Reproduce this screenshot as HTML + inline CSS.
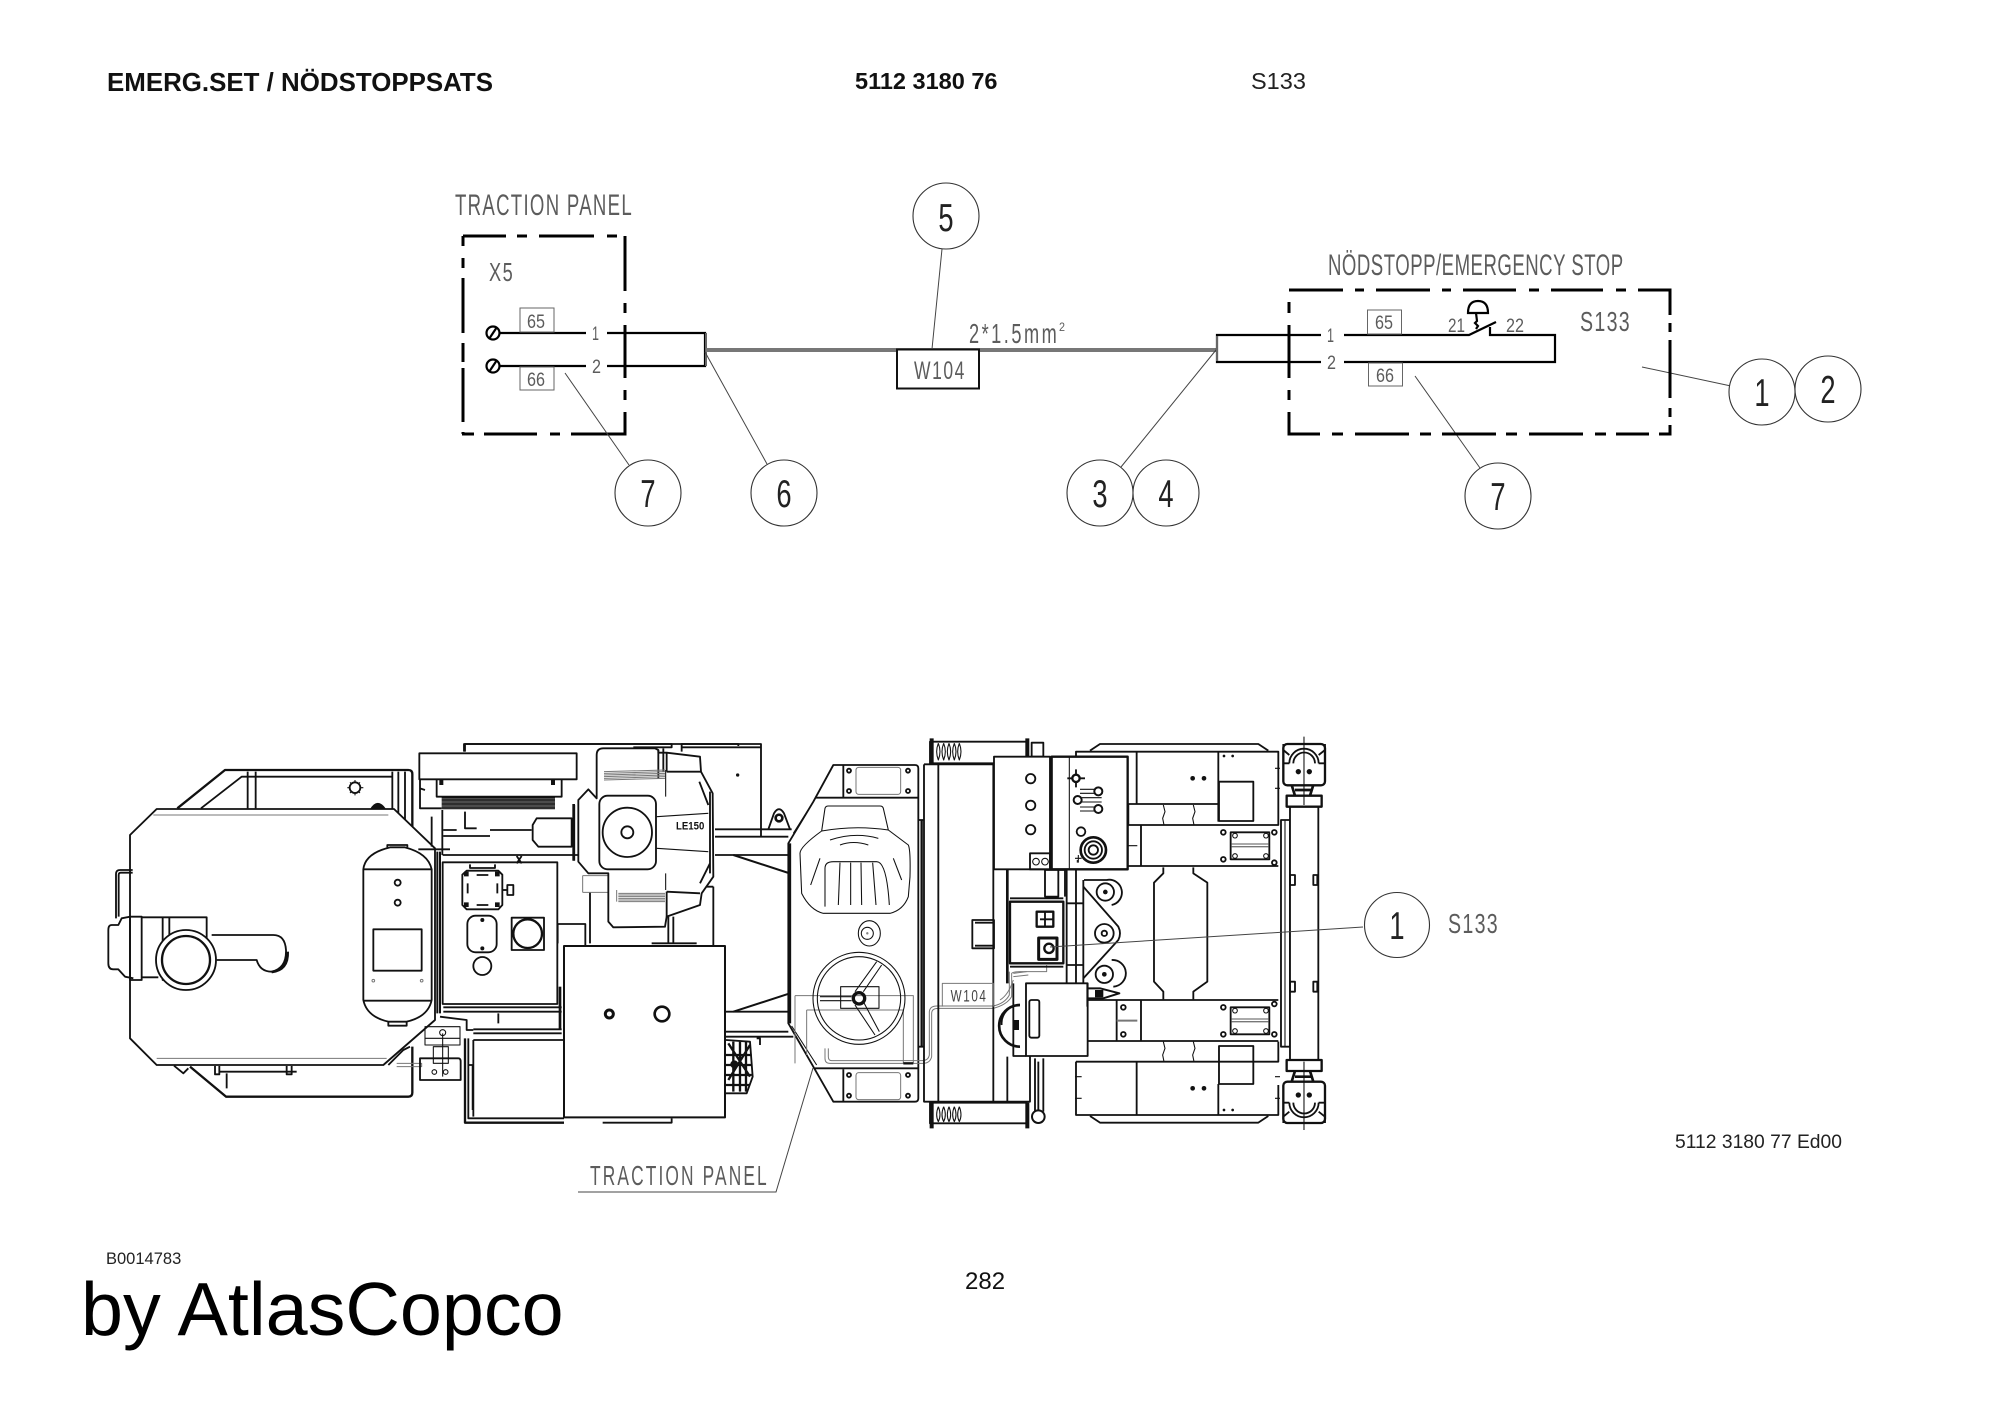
<!DOCTYPE html>
<html><head><meta charset="utf-8"><style>
html,body{margin:0;padding:0;background:#fff}
svg{display:block}
text{font-family:"Liberation Sans",sans-serif}
.c{fill:#fff;stroke:#333;stroke-width:1.1}
.n{font-size:39px;text-anchor:middle;fill:#222}
.cad{fill:#5c5c5c}
.l{fill:none;stroke:#444;stroke-width:1}
.b{fill:none;stroke:#000;stroke-width:3}
.w{fill:none;stroke:#000;stroke-width:2.2}
.g{fill:none;stroke:#666;stroke-width:1}
.m path,.m rect,.m circle,.m ellipse,.m line,.m polyline,.m polygon{fill:none;stroke:#111;stroke-width:5.5;stroke-linejoin:round}
.m .t{stroke-width:3.2}
.m .h{stroke-width:8}
.m .y{stroke:#777;stroke-width:3}
.m .f{fill:#111;stroke:none}
.m .W{fill:#fff}
</style></head><body>
<svg width="2000" height="1415" viewBox="0 0 2000 1415" xmlns="http://www.w3.org/2000/svg">
<rect width="2000" height="1415" fill="#fff"/>

<!-- Header text -->
<text x="107" y="91" font-size="26" font-weight="bold" textLength="386" lengthAdjust="spacingAndGlyphs" fill="#111">EMERG.SET / NÖDSTOPPSATS</text>
<text x="855" y="89" font-size="23.5" font-weight="bold" fill="#111">5112 3180 76</text>
<text x="1251" y="89" font-size="23.5" fill="#222">S133</text>

<!-- Schematic: traction panel -->
<text class="cad" transform="translate(455,215) scale(.62,1)" font-size="30" textLength="285" lengthAdjust="spacing">TRACTION PANEL</text>
<path class="b" d="M463 236H506M517 236H527M539 236H594M607 236H617M625 236V291M625 303V313M625 325V378M625 390V400M625 412V434H571M560 434H550M537 434H484M474 434H462M463 236V246M463 258V268M463 278V333M463 343V362M463 368V422M463 432V434"/>
<text class="cad" transform="translate(489,281) scale(.7,1)" font-size="26" textLength="34" lengthAdjust="spacing">X5</text>
<circle class="w" cx="493" cy="333" r="6.5"/><path class="w" d="M489 339L497 327"/>
<circle class="w" cx="493" cy="366" r="6.5"/><path class="w" d="M489 372L497 360"/>
<path class="w" d="M500 333H586M607 333H705V366H607M586 366H500"/>
<path d="M706 333V366" stroke="#666" stroke-width="2" fill="none"/>
<rect class="g" x="520" y="308" width="34" height="24"/><rect class="g" x="520" y="367" width="34" height="23"/>
<text class="cad" x="527" y="328" font-size="19" textLength="18" lengthAdjust="spacingAndGlyphs">65</text>
<text class="cad" x="527" y="386" font-size="19" textLength="18" lengthAdjust="spacingAndGlyphs">66</text>
<text class="cad" x="592" y="340" font-size="19" textLength="7" lengthAdjust="spacingAndGlyphs">1</text>
<text class="cad" x="592" y="373" font-size="19" textLength="9" lengthAdjust="spacingAndGlyphs">2</text>
<path d="M706 350H1217" stroke="#777" stroke-width="4" fill="none"/>
<rect x="897" y="349.500" width="82" height="39" fill="#fff" stroke="#111" stroke-width="2"/>
<text class="cad" transform="translate(914,379) scale(.7,1)" font-size="25" textLength="72" lengthAdjust="spacing">W104</text>
<text class="cad" transform="translate(969,343) scale(.65,1)" font-size="28" textLength="135" lengthAdjust="spacing">2*1.5mm</text>
<text class="cad" x="1059" y="331" font-size="12" textLength="6" lengthAdjust="spacingAndGlyphs">2</text>

<path class="l" d="M942 249L932 349M565 373L629 465M705 352L767 464M1216 350L1121 467M1642 367L1731 386M1415 376L1480 468"/>

<!-- Schematic: emergency stop -->
<text class="cad" transform="translate(1328,275) scale(.62,1)" font-size="30" textLength="476" lengthAdjust="spacing">NÖDSTOPP/EMERGENCY STOP</text>
<path class="b" d="M1289 290H1343M1355 290H1364M1376 290H1430M1442 290H1451M1463 290H1516M1529 290H1539M1551 290H1603M1616 290H1626M1638 290H1670V315M1670 323V332M1670 340V398M1670 408V417M1670 425V434H1659M1649 434H1616M1606 434H1595M1583 434H1529M1517 434H1506M1496 434H1442M1431 434H1420M1409 434H1355M1343 434H1332M1320 434H1289V412M1289 400V390M1289 378V325M1289 313V302"/>
<path class="w" d="M1344 335H1469L1496 322M1490 327V335H1555V362H1344M1321 362H1217V335H1321"/>
<path d="M1217 336V361" stroke="#666" stroke-width="2" fill="none"/>
<text class="cad" x="1327" y="342" font-size="19" textLength="7" lengthAdjust="spacingAndGlyphs">1</text>
<text class="cad" x="1327" y="369" font-size="19" textLength="9" lengthAdjust="spacingAndGlyphs">2</text>
<rect class="g" x="1367.500" y="310" width="34" height="24"/><rect class="g" x="1368.500" y="363" width="34" height="23"/>
<text class="cad" x="1375" y="329" font-size="19" textLength="18" lengthAdjust="spacingAndGlyphs">65</text>
<text class="cad" x="1376" y="382" font-size="19" textLength="18" lengthAdjust="spacingAndGlyphs">66</text>
<text class="cad" x="1448" y="332" font-size="19" textLength="17" lengthAdjust="spacingAndGlyphs">21</text>
<text class="cad" x="1506" y="332" font-size="19" textLength="18" lengthAdjust="spacingAndGlyphs">22</text>
<text class="cad" transform="translate(1580,331) scale(.7,1)" font-size="28" textLength="71" lengthAdjust="spacing">S133</text>
<path class="w" d="M1468 313Q1468 301 1478 301Q1488 301 1488 313ZM1476 313L1477 321L1475 323L1478 326L1476 329"/>

<circle class="c" cx="946" cy="216" r="33"/><text class="n" transform="translate(946,231) scale(.7,1)">5</text>
<circle class="c" cx="648" cy="493" r="33"/><text class="n" transform="translate(648,507) scale(.7,1)">7</text>
<circle class="c" cx="784" cy="493" r="33"/><text class="n" transform="translate(784,507) scale(.7,1)">6</text>
<circle class="c" cx="1100" cy="493" r="33"/><text class="n" transform="translate(1100,507) scale(.7,1)">3</text>
<circle class="c" cx="1166" cy="493" r="33"/><text class="n" transform="translate(1166,507) scale(.7,1)">4</text>
<circle class="c" cx="1762" cy="392" r="33"/><text class="n" transform="translate(1762,406) scale(.7,1)">1</text>
<circle class="c" cx="1828" cy="389" r="33"/><text class="n" transform="translate(1828,403) scale(.7,1)">2</text>
<circle class="c" cx="1498" cy="496" r="33"/><text class="n" transform="translate(1498,510) scale(.7,1)">7</text>

<!-- Machine drawing: coordinates in 3x space from (100,730) -->
<g class="m" transform="translate(100,730) scale(.33333)">
 <!-- Section A -->
 <path d="M232 235L375 120H925Q937 120 937 132V290" style="stroke-width:7"/>
 <path d="M303 235L425 140H875"/>
 <path d="M443 125V235M467 125V235M877 125V237M895 125V250M915 125V270"/>
 <circle cx="765" cy="173" r="16"/><path class="t" d="M765 150V157M765 189V196M742 173H749M781 173H790M750 157L755 162M780 157L775 162M750 189L755 184M780 189L775 184"/>
 <path class="f" d="M810 237Q833 200 858 237Z"/>
 <path d="M270 1010L378 1100H925Q937 1100 937 1088V950" style="stroke-width:7"/>
 <path d="M222 1007L250 1030L265 1015M360 1025H590M345 1008V1033H358V1008M560 1008V1033H575V1008M380 1030V1075"/>
 <path class="W" d="M170 237H882L1005 355V870L850 1005H170L90 925V315Z"/>
 <path class="y" d="M160 255H865M170 985H860"/>
 <path d="M98 420H60Q48 420 48 432V565M98 428H62Q56 428 56 435V560"/>
 <path d="M90 560L65 565L55 585H35Q25 585 25 600V700Q25 718 40 718H55L75 740L100 745"/>
 <rect x="90" y="560" width="35" height="190"/>
 <path d="M125 562H320V640M125 742H175M188 562V750H208V562"/>
 <circle class="W" cx="258" cy="690" r="90"/><circle cx="258" cy="690" r="72" style="stroke-width:7"/>
 <path d="M335 615H520Q555 615 558 660Q560 715 515 725Q480 725 470 690H350"/>
 <path d="M563 665Q565 720 515 726" style="stroke-width:8"/>
 <path class="W" d="M790 418Q795 370 870 352H915Q985 370 995 418V810Q985 860 920 875H865Q800 860 790 810Z"/>
 <path d="M790 418H995M790 812H995M862 352V345H922V352M865 875V887H920V875"/>
 <rect x="820" y="598" width="145" height="124"/>
 <circle cx="893" cy="458" r="9"/><circle cx="893" cy="518" r="9"/>
 <circle class="y" cx="820" cy="752" r="4"/><circle class="y" cx="965" cy="752" r="4"/>
 <path d="M1012 365V850M1020 365V850" style="stroke-width:6"/><path d="M955 358H1050M1028 375H1500" />
 <rect x="1028" y="397" width="344" height="425" class="W"/>
 <rect x="958" y="70" width="472" height="78" class="W"/>
 <path d="M1095 65V42H1915V48M1010 150V200H1385V150M960 148V175L975 180M960 175V235H1025"/>
 <path class="f" d="M1018 150h12v15h-12zM1353 150h12v15h-12z"/>
 <path class="t" d="M1025 204H1365M1025 208H1365M1025 212H1365M1025 216H1365M1025 220H1365M1025 224H1365M1025 228H1365M1025 232H1365M1025 236H1365"/>
 <path d="M1027 240V375M995 260V350M1095 245V295H1130M1030 318H1170M1170 300H1295M1030 300H1070"/>
 <path d="M1310 265H1415V350H1315L1298 330V285Z"/>
 <path class="h" d="M1421 222V392"/>
 <path d="M1110 403V414H1185V403M1250 378L1265 400M1265 378L1250 400"/>
 <path d="M1100 422H1195L1207 434V525L1195 538H1100L1087 525V434Z"/>
 <path class="f" d="M1092 425h14v14h-14zM1185 425h14v14h-14zM1092 517h14v14h-14zM1185 517h14v14h-14z"/>
 <path d="M1103 460V490M1192 460V490M1130 435H1165M1130 525H1165"/>
 <path d="M1207 480H1222"/><rect x="1222" y="465" width="18" height="30"/>
 <rect x="1102" y="557" width="88" height="110" rx="25"/>
 <circle class="f" cx="1147" cy="570" r="6"/><circle class="f" cx="1147" cy="655" r="6"/>
 <rect x="1235" y="563" width="97" height="97"/><circle cx="1283" cy="611" r="43" style="stroke-width:7"/>
 <circle cx="1147" cy="708" r="27"/>
 <path d="M1030 832H1385M1030 845H1385M1120 898H1385M1120 910H1385M1195 850V880"/>
 <path d="M1020 860L1100 870V900H1120"/>
 <path class="t" d="M975 890H1080V945H975ZM975 925H1080M1000 950H1045V1000H1000ZM1028 910V1040"/><circle class="t" cx="1028" cy="908" r="9"/>
 <path class="y" d="M890 1000H965V1010H890"/>
 <path d="M960 985H1075Q1082 985 1082 995V1050H960ZM865 1005L910 960L930 950"/>
 <circle class="t" cx="1003" cy="1026" r="7"/><circle class="t" cx="1037" cy="1026" r="7"/>
 <path class="h" d="M1095 925V1178H1392" style="stroke-width:7"/>
 <path d="M1105 925V1165H1392M1120 930V1160M1120 930H1392M1105 1005H1118V1140"/>

 <!-- Section B, zoom 4 coordinates -->
 <g transform="translate(900,0)">
  <path d="M845 65V42H1083V320M845 52H1083M945 298H1175M945 320H1165M945 375H1165"/>
  <circle class="f" cx="1013" cy="135" r="5"/>
  <path d="M1105 298L1122 250Q1137 225 1152 250L1170 298"/><circle cx="1137" cy="264" r="10" style="stroke-width:8"/>
  <path d="M1000 375L1175 432M1000 845L1170 790" style="stroke-width:6"/>
  <path d="M570 487V640M473 640V582H556V645M805 560V640M820 560V640M940 470V645M915 470H940M755 640H890"/>
  <path class="y" d="M548 437H625M548 487H625M548 437V487"/>
  <path class="W" d="M590 75Q590 55 610 55H765L775 60V68H800L900 80L903 125L938 190L940 440L905 490L900 525L800 560L795 590L640 592L625 575V430H565L535 395V210L565 178L590 205Z"/>
  <path class="h" d="M522 225V392" style="stroke-width:7"/>
  <path d="M775 60V145M790 55V125M800 125H903M800 68V125M898 155L925 225M900 460L930 400M930 185V430M800 485L900 490M800 485V560"/>
  <path class="t" d="M770 260L925 250M770 355L925 365M797 120V200M797 430V480"/>
  <path class="y" d="M612 125L795 120M612 130L795 125M612 135L795 130M612 140L795 135M612 145L795 140M612 150L795 145M650 480V515M655 490H795M655 495H795M655 500H795M655 505H795M655 510H795M655 515H795"/>
  <rect class="W" x="598" y="197" width="170" height="221" rx="25"/>
  <circle cx="682" cy="307" r="74"/><circle cx="682" cy="307" r="18"/>
  <text x="828" y="298" font-size="34" font-weight="bold" textLength="85" lengthAdjust="spacingAndGlyphs" style="fill:#111;stroke:none">LE150</text>
  <rect class="W" x="492" y="648" width="483" height="514" style="stroke-width:6"/>
  <circle cx="628" cy="852" r="12" style="stroke-width:9"/>
  <circle cx="786" cy="852" r="22" style="stroke-width:8"/>
  <path d="M978 845H1165M978 905H1165M978 920H1180M1070 925H1080V945"/>
  <path d="M480 770V900" style="stroke-width:8"/>
  <path d="M978 930L1050 935L1058 1040L1040 1090H978" /><path d="M985 940L1050 1040M1050 945L985 1050M1000 935V1085M1020 935V1085M1038 935V1085M975 1005H1055M975 975H1055M975 1035H1055M975 1065H1050" style="stroke-width:7"/>
  <circle class="f" cx="1003" cy="1003" r="12"/>
  <path d="M190 42H815V52H700M192 42V65M608 1178H815V1165"/>
 </g>

 <!-- Section C, zoom 5 coordinates -->
 <g transform="translate(2040,0)">
  <path class="W" d="M160 105H405Q415 105 415 115V1105Q415 1115 405 1115H160L100 1010L25 880V340L100 215Z"/>
  <path class="h" d="M30 340V880" style="stroke-width:7"/>
  <path d="M105 203H415M105 1015H415M190 105V203M190 1018V1115"/>
  <path class="t" d="M100 215L40 310M35 888L110 1005"/>
  <rect class="y" x="228" y="112" width="134" height="81" rx="8"/><rect class="y" x="228" y="1028" width="134" height="81" rx="8"/>
  <circle cx="207" cy="122" r="6"/><circle cx="207" cy="183" r="6"/><circle cx="384" cy="122" r="6"/><circle cx="384" cy="183" r="6"/>
  <circle cx="207" cy="1035" r="6"/><circle cx="207" cy="1097" r="6"/><circle cx="384" cy="1035" r="6"/><circle cx="384" cy="1097" r="6"/>
  <path class="t" d="M125 303L135 235Q137 228 145 228H300Q308 228 310 235L325 300M125 303Q225 285 325 300L385 345Q392 360 390 440L385 500Q370 540 330 550H130Q90 540 65 490L60 370Q60 350 125 303"/>
  <path class="t" d="M135 530V415Q135 395 160 395H290Q320 395 328 525M175 525L180 398M212 525V398M245 525L243 398M288 525L278 398M92 465L120 385M340 385L365 450M150 330Q225 305 295 325M180 345Q220 330 265 345"/>
  <ellipse class="t" cx="268" cy="610" rx="33" ry="38" /><circle class="t" cx="262" cy="610" r="18"/>
  <circle class="y" cx="262" cy="610" r="2"/>
  <path class="y" d="M45 797H400V1000M45 797V1000M80 840H370V1000M80 840V975"/>
  <rect class="t" x="182" y="770" width="115" height="65"/>
  <circle class="t" cx="237" cy="805" r="138"/><circle class="t" cx="237" cy="805" r="125"/>
  <path class="t" d="M225 785L290 695M250 785L305 705M120 800H215M120 812H215M225 825L285 915M250 815L298 905"/>
  <circle cx="237" cy="805" r="17" style="stroke-width:10"/>
  <path class="y" d="M135 955V985Q135 1000 150 1000H430Q450 1000 455 980V850Q455 835 475 835H640Q680 825 695 800V730Q700 725 720 725H800V705"/>
  <path class="y" d="M145 955V980Q145 992 155 992H425Q445 992 448 975V845Q450 828 470 828H640Q675 820 688 795V725"/>
  <path class="h" d="M370 1000H400" style="stroke-width:7"/>
  <path class="h" d="M425 270V950" style="stroke-width:7"/>
  <path d="M415 270H432M415 950H432M432 103H640M432 103V1115H750V975M475 103V1115M640 103V1115M682 420V700M682 980V1115"/>
  <path class="y" d="M487 830V760H640V830"/>
  <text transform="translate(512,815) scale(.7,1)" font-size="50" textLength="151" lengthAdjust="spacing" style="fill:#444;stroke:none">W104</text>
  <rect x="450" y="35" width="290" height="65"/><rect x="450" y="1118" width="290" height="62"/>
  <path d="M455 25V105M742 25V105M455 1118V1195M742 1118V1195" style="stroke-width:12"/>
  <path class="t" d="M475 40Q465 65 475 90Q485 65 475 40M491 40Q481 65 491 90Q501 65 491 40M507 40Q497 65 507 90Q517 65 507 40M523 40Q513 65 523 90Q533 65 523 40M538 40Q528 65 538 90Q548 65 538 40M475 1130Q465 1155 475 1175Q485 1155 475 1130M491 1130Q481 1155 491 1175Q501 1155 491 1130M507 1130Q497 1155 507 1175Q517 1155 507 1130M523 1130Q513 1155 523 1175Q533 1155 523 1130M538 1130Q528 1155 538 1175Q548 1155 538 1130"/>
  <rect x="755" y="38" width="35" height="42"/>
  <path d="M765 985V1145M790 985V1145M775 995V1140" />
  <circle class="W" cx="775" cy="1160" r="19" style="stroke-width:6"/>
  <rect class="W" x="642" y="80" width="168" height="338"/>
  <circle cx="752" cy="146" r="14"/><circle cx="752" cy="226" r="14"/><circle cx="752" cy="299" r="14"/>
  <rect x="750" y="370" width="60" height="48"/><circle class="t" cx="768" cy="395" r="10"/><circle class="t" cx="795" cy="395" r="10"/>
  <rect class="W" x="815" y="80" width="228" height="338" style="stroke-width:7"/>
  <path class="t" d="M868 82V415M885 385H905M895 375V398M1043 347H1072"/>
  <circle class="W" cx="888" cy="145" r="11" style="stroke-width:7"/><path d="M888 118V134M888 156V172M862 145H877M899 145H915"/>
  <circle cx="955" cy="184" r="12" style="stroke-width:6"/><circle cx="893" cy="210" r="12" style="stroke-width:6"/><circle cx="955" cy="237" r="12" style="stroke-width:6"/>
  <path class="t" d="M900 178H945M900 190H945M905 203H965M905 216H965M900 231H945M900 243H945"/>
  <circle cx="903" cy="305" r="13"/><circle cx="940" cy="360" r="38" style="stroke-width:8"/><circle cx="940" cy="360" r="26"/><circle cx="940" cy="360" r="14"/>
 </g>

 <!-- Section D, zoom 6 coordinates -->
 <g transform="translate(2700,0)">
  <path d="M270 62L300 42H775L805 62M270 1158L300 1178H775L805 1158"/>
  <path d="M228 80V65H835V285H385M410 65V222M655 65V275M385 222H655M385 285V222M385 408H835"/>
  <rect x="657" y="155" width="103" height="118"/>
  <path class="t" d="M490 225L495 245L488 265L492 285M580 225L585 245L578 265L582 285M490 935L495 955L488 975L492 995M580 935L585 955L578 975L582 995"/>
  <path d="M423 285V408M265 810H835M265 933H835M423 810V933M350 812V933M228 995H835V935M228 995V1155H835V1065M410 995V1155M655 1062V1155"/>
  <rect x="657" y="948" width="103" height="114"/>
  <circle class="f" cx="578" cy="145" r="7"/><circle class="f" cx="612" cy="145" r="7"/><circle class="f" cx="672" cy="78" r="4"/><circle class="f" cx="698" cy="78" r="4"/>
  <circle class="f" cx="578" cy="1075" r="7"/><circle class="f" cx="612" cy="1075" r="7"/><circle class="f" cx="672" cy="1140" r="4"/><circle class="f" cx="698" cy="1140" r="4"/>
  <rect x="692" y="307" width="116" height="81"/><rect x="692" y="832" width="116" height="81"/>
  <path class="y" d="M695 342H805M695 350H805M695 867H805M695 875H805" style="stroke-width:4"/>
  <circle class="t" cx="705" cy="317" r="7"/><circle class="t" cx="798" cy="317" r="7"/><circle class="t" cx="705" cy="378" r="7"/><circle class="t" cx="798" cy="378" r="7"/>
  <circle class="t" cx="705" cy="842" r="7"/><circle class="t" cx="798" cy="842" r="7"/><circle class="t" cx="705" cy="903" r="7"/><circle class="t" cx="798" cy="903" r="7"/>
  <circle cx="670" cy="307" r="7"/><circle cx="670" cy="388" r="7"/><circle cx="823" cy="307" r="7"/><circle cx="823" cy="398" r="7"/>
  <circle cx="670" cy="832" r="7"/><circle cx="670" cy="913" r="7"/><circle cx="823" cy="822" r="7"/><circle cx="823" cy="913" r="7"/>
  <circle cx="370" cy="832" r="7"/><circle cx="370" cy="913" r="7"/>
  <path class="y" d="M350 872H412" style="stroke-width:6"/>
  <path d="M490 412V430L462 458V755L490 785V808M580 412V430L622 458V755L580 785V808"/>
  <path d="M252 450H320A36 36 0 0 1 335 525M250 470L355 590Q365 610 355 630L250 745M335 690A36 36 0 0 1 340 770"/>
  <circle cx="316" cy="486" r="26"/><circle class="f" cx="316" cy="486" r="7"/>
  <circle cx="313" cy="610" r="28"/><circle cx="313" cy="610" r="8"/>
  <circle cx="313" cy="733" r="26"/><circle class="f" cx="313" cy="733" r="7"/>
  <path d="M22 420V760" style="stroke-width:8"/>
  <path d="M200 420V760M228 420V760M250 450V760M30 505H190M200 520H250M200 705H250"/>
  <rect x="135" y="420" width="40" height="80"/><path d="M175 420H195V500"/>
  <path d="M-83 570H-18V655H-83ZM-75 578H-18V647H-75"/>
  <rect class="W" x="30" y="515" width="160" height="185" style="stroke-width:7"/>
  <rect x="110" y="545" width="50" height="45" style="stroke-width:7"/><path d="M135 545V590M120 568H160" />
  <rect x="116" y="624" width="55" height="64" style="stroke-width:9"/><circle cx="147" cy="655" r="14" style="stroke-width:7"/>
  <path d="M30 710H190M40 760V978H78"/>
  <path d="M60 825A60 60 0 0 0 60 950" style="stroke-width:8"/><path d="M5 885A55 55 0 0 1 60 825" />
  <path class="f" d="M42 870h15v30h-15z"/>
  <path class="y" d="M40 730L80 725M40 740L85 735M0 810Q25 795 40 750"/>
  <rect class="W" x="78" y="760" width="185" height="218"/>
  <rect x="88" y="810" width="30" height="113" rx="6"/>
  <path d="M265 775H300L358 790L310 805H265" style="stroke-width:6"/><path class="f" d="M285 780h25v22h-25z"/>
  <path d="M262 760V830" />
  <!-- right axle -->
  <rect class="W" x="843" y="270" width="27" height="680"/><path class="t" d="M855 272V948"/>
  <rect class="W" x="870" y="225" width="85" height="765" />
  <rect class="W" x="860" y="197" width="105" height="33" style="stroke-width:7"/><rect class="W" x="860" y="990" width="105" height="33" style="stroke-width:7"/>
  <rect x="870" y="435" width="15" height="30"/><rect x="940" y="435" width="12" height="30"/>
  <rect x="870" y="755" width="15" height="30"/><rect x="940" y="755" width="12" height="30"/>
  <path d="M875 165L885 197M940 165L930 197M885 180H935M885 1023L875 1055M930 1023L940 1055M885 1040H935" style="stroke-width:8"/>
  <rect x="850" y="42" width="125" height="124" rx="12" style="stroke-width:7"/>
  <path d="M868 100A44 44 0 0 1 956 100M868 100H850M956 100H975M880 100A32 32 0 0 1 945 100M850 42V60L868 75M975 42V60L956 75" />
  <circle class="f" cx="895" cy="125" r="8"/><circle class="f" cx="928" cy="125" r="8"/>
  <rect x="850" y="1055" width="125" height="124" rx="12" style="stroke-width:7"/>
  <path d="M868 1118A44 44 0 0 0 956 1118M868 1118H850M956 1118H975M880 1118A32 32 0 0 0 945 1118M850 1179V1160L868 1145M975 1179V1160L956 1145"/>
  <circle class="f" cx="895" cy="1095" r="8"/><circle class="f" cx="928" cy="1095" r="8"/>
  <path class="t" d="M912 20V225M912 995V1200"/>
  <path d="M232 390V398M225 1040H245M225 1105H245M825 115H840M825 175H840M825 1040H840M825 1105H840" class="t"/>
 </g>
</g>

<!-- Leaders over machine -->
<path class="l" d="M1050 947L1363 927"/>
<path class="l" d="M813 1068L776 1192H578"/>
<circle class="c" cx="1397" cy="925" r="32.500"/><text class="n" transform="translate(1397,939) scale(.7,1)">1</text>
<text class="cad" transform="translate(1448,933) scale(.7,1)" font-size="28" textLength="71" lengthAdjust="spacing">S133</text>
<text class="cad" transform="translate(590,1185) scale(.62,1)" font-size="28" textLength="285" lengthAdjust="spacing">TRACTION PANEL</text>

<!-- Footer text -->
<text x="1675" y="1148" font-size="19.500" textLength="167" lengthAdjust="spacingAndGlyphs" fill="#222">5112 3180 77 Ed00</text>
<text x="106" y="1264" font-size="16.500" fill="#222">B0014783</text>
<text x="81" y="1335" font-size="75.500" fill="#000">by AtlasCopco</text>
<text x="965" y="1289" font-size="24" fill="#111">282</text>
</svg>
</body></html>
